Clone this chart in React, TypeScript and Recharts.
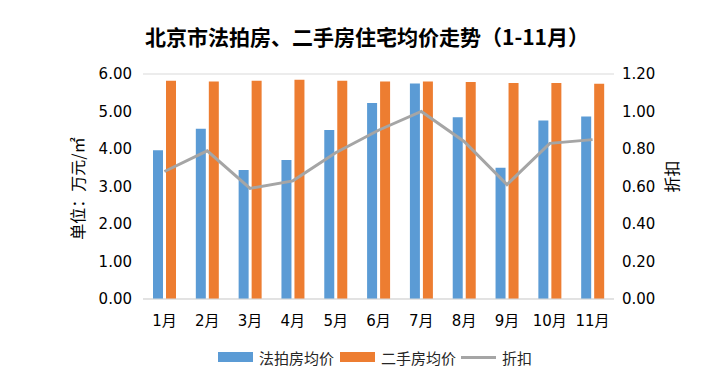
import React from "react";
import {
  ComposedChart,
  Bar,
  Line,
  XAxis,
  YAxis,
  CartesianGrid,
  Legend,
  Label,
} from "recharts";

const months = ["1月", "2月", "3月", "4月", "5月", "6月", "7月", "8月", "9月", "10月", "11月"];
const auctionPrice = [3.97, 4.54, 3.44, 3.71, 4.51, 5.23, 5.75, 4.85, 3.5, 4.76, 4.87];
const resalePrice = [5.82, 5.8, 5.82, 5.85, 5.82, 5.8, 5.8, 5.79, 5.76, 5.76, 5.74];
const discount = [0.68, 0.79, 0.59, 0.63, 0.78, 0.9, 1.0, 0.84, 0.61, 0.83, 0.85];
const leftTicks = [0, 1, 2, 3, 4, 5, 6];
const rightTicks = [0, 0.2, 0.4, 0.6, 0.8, 1.0, 1.2];

const seriesNames = { auction: "法拍房均价", resale: "二手房均价", discount: "折扣" };
const title = "北京市法拍房、二手房住宅均价走势（1-11月）";
const leftAxisLabel = "单位：万元/㎡";
const rightAxisLabel = "折扣";

const data = months.map((m, i) => ({
  month: m,
  auction: auctionPrice[i],
  resale: resalePrice[i],
  discount: discount[i],
}));

const BLUE = "#5B9BD5";
const ORANGE = "#ED7D31";
const GREY = "#A5A5A5";
const FONT = "'DejaVu Sans', 'Noto Sans CJK SC', sans-serif";
const CJK = "'Noto Sans CJK SC', sans-serif";

const LegendContent = () => (
  <div
    style={{
      display: "flex",
      justifyContent: "center",
      alignItems: "center",
      fontFamily: CJK,
      fontSize: 15,
      color: "#262626",
      height: 24,
      paddingLeft: 28,
    }}
  >
    <span style={{ display: "inline-block", width: 35, height: 10, background: BLUE, marginRight: 6 }} />
    <span style={{ marginRight: 6 }}>{seriesNames.auction}</span>
    <span style={{ display: "inline-block", width: 35, height: 10, background: ORANGE, marginRight: 6 }} />
    <span style={{ marginRight: 5 }}>{seriesNames.resale}</span>
    <span style={{ display: "inline-block", width: 35, height: 3, background: GREY, marginRight: 6 }} />
    <span>{seriesNames.discount}</span>
  </div>
);

export default function App() {
  return (
    <div style={{ position: "absolute", left: 0, top: 0, width: 722, height: 390, background: "#fff" }}>
      <div
        style={{
          position: "absolute",
          top: 22,
          left: 0,
          width: 734,
          textAlign: "center",
          fontFamily: CJK,
          fontWeight: 700,
          fontSize: 21,
          color: "#000",
          lineHeight: "28px",
        }}
      >
        {title}
      </div>
      <ComposedChart
        width={722}
        height={390}
        data={data}
        margin={{ top: 74, right: 58, bottom: 37, left: 80 }}
        barSize={10}
        barGap={3}
      >
        <CartesianGrid vertical={false} stroke="#D9D9D9" strokeWidth={1} />
        <XAxis
          dataKey="month"
          height={30}
          tickLine={false}
          axisLine={{ stroke: "#D9D9D9" }}
          tickMargin={10}
          tick={{ fill: "#000", fontSize: 15, fontFamily: FONT }}
          interval={0}
        />
        <YAxis
          yAxisId="left"
          width={63}
          domain={[0, 6]}
          ticks={leftTicks}
          tickFormatter={(v: number) => v.toFixed(2)}
          tickLine={false}
          axisLine={false}
          tickMargin={5}
          tick={{ fill: "#000", fontSize: 15, fontFamily: FONT }}
        >
          <Label
            value={leftAxisLabel}
            angle={-90}
            position="center"
            dx={-33}
            dy={2}
            style={{ textAnchor: "middle", fontSize: 16, fontFamily: CJK, fill: "#000" }}
          />
        </YAxis>
        <YAxis
          yAxisId="right"
          orientation="right"
          width={50}
          domain={[0, 1.2]}
          ticks={rightTicks}
          tickFormatter={(v: number) => v.toFixed(2)}
          tickLine={false}
          axisLine={false}
          tick={{ fill: "#000", fontSize: 15, fontFamily: FONT }}
        >
          <Label
            value={rightAxisLabel}
            angle={-90}
            position="center"
            dx={33}
            dy={-10}
            style={{ textAnchor: "middle", fontSize: 16, fontFamily: CJK, fill: "#000" }}
          />
        </YAxis>
        <Legend
          verticalAlign="bottom"
          content={<LegendContent />}
          wrapperStyle={{ top: 345, left: 0, width: 722, height: 24, bottom: "auto" }}
        />
        <Bar yAxisId="left" dataKey="auction" name={seriesNames.auction} fill={BLUE} isAnimationActive={false} />
        <Bar yAxisId="left" dataKey="resale" name={seriesNames.resale} fill={ORANGE} isAnimationActive={false} />
        <Line
          yAxisId="right"
          dataKey="discount"
          name={seriesNames.discount}
          stroke={GREY}
          strokeWidth={3}
          dot={false}
          activeDot={false}
          isAnimationActive={false}
        />
      </ComposedChart>
    </div>
  );
}
